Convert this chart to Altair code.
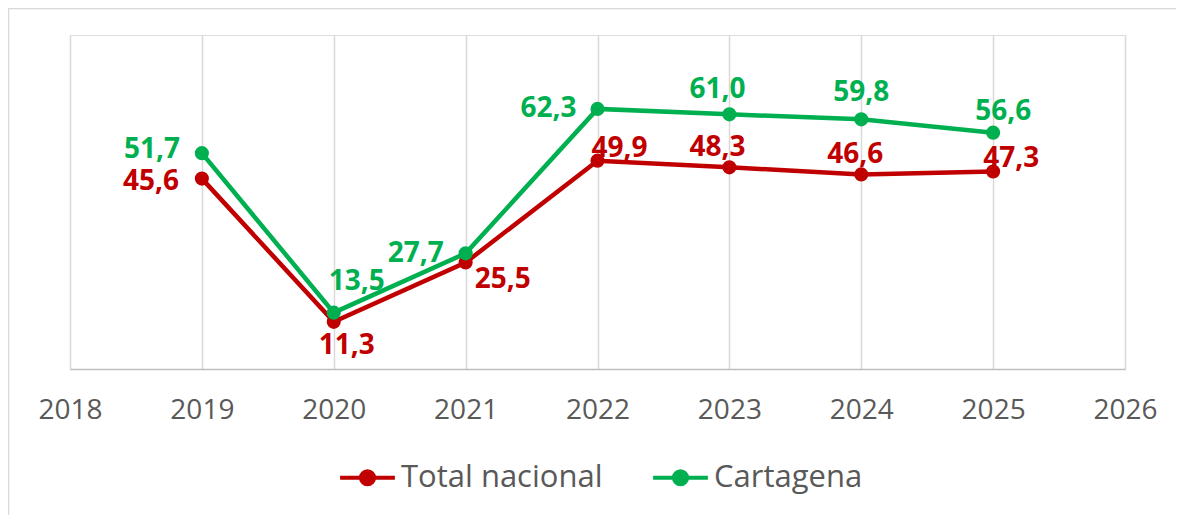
import altair as alt
import pandas as pd

years = [2019, 2020, 2021, 2022, 2023, 2024, 2025]
total_nacional = [45.6, 11.3, 25.5, 49.9, 48.3, 46.6, 47.3]
cartagena = [51.7, 13.5, 27.7, 62.3, 61.0, 59.8, 56.6]
series_names = ["Total nacional", "Cartagena"]
series_colors = ["#C00000", "#00B050"]
x_ticks = [2018, 2019, 2020, 2021, 2022, 2023, 2024, 2025, 2026]

rows = []
for name, vals in zip(series_names, [total_nacional, cartagena]):
    for yr, v in zip(years, vals):
        rows.append({"year": yr, "value": v, "series": name,
                     "label": f"{v:.1f}".replace(".", ",")})
df = pd.DataFrame(rows)

# label placement (pixel offsets from the point), styling only
LABEL_OFFSETS = {
    ("Cartagena", 2019): (-50, -3), ("Cartagena", 2020): (23, -31),
    ("Cartagena", 2021): (-50, 1), ("Cartagena", 2022): (-49, 0),
    ("Cartagena", 2023): (-12, -24), ("Cartagena", 2024): (0, -26),
    ("Cartagena", 2025): (10, -21),
    ("Total nacional", 2019): (-51, 3), ("Total nacional", 2020): (13, 24),
    ("Total nacional", 2021): (37, 17), ("Total nacional", 2022): (22, -12),
    ("Total nacional", 2023): (-12, -19), ("Total nacional", 2024): (-6, -19),
    ("Total nacional", 2025): (18, -13),
}

FONT = "Open Sans"

x_enc = alt.X("year:Q",
              scale=alt.Scale(domain=[2018, 2026], nice=False, zero=False),
              axis=alt.Axis(values=x_ticks, format="d", title=None, grid=True,
                            gridColor="#D9D9D9", gridWidth=1.5,
                            domainColor="#BFBFBF", domainWidth=1.5,
                            ticks=False, labelFontSize=28, labelColor="#595959",
                            labelFont=FONT, labelPadding=27, labelFlush=False))
y_enc = alt.Y("value:Q", scale=alt.Scale(domain=[0, 80]), axis=None)

legend = alt.Legend(orient="none", legendX=268, legendY=413, direction="horizontal",
                    title=None, labelFontSize=31, labelFont=FONT, labelColor="#595959",
                    labelLimit=0,
                    symbolType="M-1,0L1,0M0.24,0A0.24,0.24,0,1,1,-0.24,0A0.24,0.24,0,1,1,0.24,0",
                    symbolSize=3000, symbolStrokeWidth=4, labelOffset=4, columnPadding=42)
color_enc = alt.Color("series:N",
                      scale=alt.Scale(domain=series_names, range=series_colors),
                      legend=legend)

base = alt.Chart(df)

border = alt.Chart(alt.Data(values=[{}])).mark_rect(
    fill=None, stroke="#D9D9D9", strokeWidth=1.5).encode(
    x=alt.value(-61.5), x2=alt.value(1300), y=alt.value(-26.5), y2=alt.value(700))

lines = base.mark_line(strokeWidth=4.5).encode(
    x=x_enc, y=y_enc, color=color_enc, detail="series:N")
points = base.mark_point(filled=True, size=200, opacity=1).encode(
    x=x_enc, y=y_enc, color=color_enc)

layers = [border, lines, points]
for (name, yr), (dx, dy) in LABEL_OFFSETS.items():
    col = series_colors[series_names.index(name)]
    layers.append(
        base.transform_filter(
            f"datum.series == '{name}' && datum.year == {yr}"
        ).mark_text(dx=dx, dy=dy, fontSize=28, fontWeight="bold", font=FONT,
                    color=col, align="center", baseline="middle").encode(
            x=x_enc, y=y_enc, text="label:N")
    )

chart = alt.layer(*layers).properties(
    width=1055, height=334,
    autosize=alt.AutoSizeParams(type="none"),
    padding={"left": 62, "top": 27, "right": 51, "bottom": 146},
).configure_view(stroke=None).configure(background="white")

chart.save("out.html", embed_options={"renderer": "svg", "actions": False})
